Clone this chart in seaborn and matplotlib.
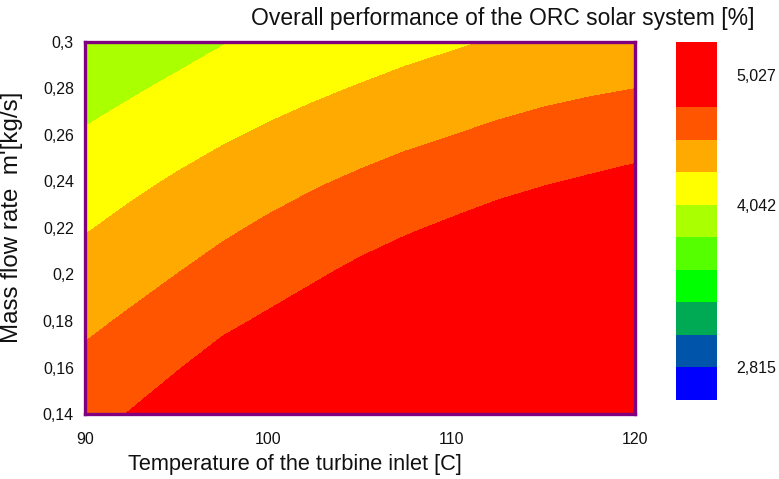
import numpy as np
import matplotlib
matplotlib.use("Agg")
import matplotlib.pyplot as plt
from matplotlib.colors import ListedColormap, BoundaryNorm
import seaborn as sns

# ---- data ----
temperature = [90, 92.5, 95, 97.5, 100, 102.5, 105, 107.5, 110, 112.5, 115, 117.5, 120]  # x (C)
mass_flow = [0.14, 0.16, 0.18, 0.20, 0.22, 0.24, 0.26, 0.28, 0.30]                      # y (kg/s)
# overall performance [%], one row per mass flow (bottom -> top), columns = temperature
perf_m014 = [4.701, 4.792, 4.887, 4.984, 5.047, 5.080, 5.100, 5.110, 5.120, 5.130, 5.140, 5.150, 5.160]
perf_m016 = [4.594, 4.680, 4.770, 4.863, 4.929, 5.004, 5.070, 5.090, 5.110, 5.120, 5.130, 5.140, 5.150]
perf_m018 = [4.488, 4.567, 4.653, 4.741, 4.810, 4.881, 4.960, 5.029, 5.080, 5.090, 5.110, 5.120, 5.130]
perf_m020 = [4.382, 4.458, 4.536, 4.620, 4.691, 4.759, 4.830, 4.894, 4.953, 5.013, 5.060, 5.090, 5.100]
perf_m022 = [4.274, 4.351, 4.424, 4.499, 4.572, 4.637, 4.700, 4.759, 4.813, 4.868, 4.911, 4.951, 5.000]
perf_m024 = [4.167, 4.242, 4.313, 4.381, 4.448, 4.513, 4.570, 4.624, 4.673, 4.723, 4.766, 4.803, 4.840]
perf_m026 = [4.063, 4.131, 4.199, 4.263, 4.321, 4.382, 4.438, 4.489, 4.533, 4.579, 4.621, 4.655, 4.688]
perf_m028 = [3.957, 4.019, 4.084, 4.148, 4.206, 4.252, 4.304, 4.355, 4.398, 4.441, 4.478, 4.509, 4.535]
perf_m030 = [3.850, 3.908, 3.969, 4.034, 4.094, 4.132, 4.170, 4.220, 4.263, 4.306, 4.339, 4.372, 4.403]
perf_rows = [perf_m014, perf_m016, perf_m018, perf_m020, perf_m022,
             perf_m024, perf_m026, perf_m028, perf_m030]

level_low, level_high, n_bands = 2.5692, 5.2728, 11
cbar_ticks = [2.815, 4.042, 5.027]
cbar_ticklabels = ["2,815", "4,042", "5,027"]
x_ticks = [90, 100, 110, 120]
y_ticks = [0.14, 0.16, 0.18, 0.20, 0.22, 0.24, 0.26, 0.28, 0.30]
y_ticklabels = ["0,14", "0,16", "0,18", "0,2", "0,22", "0,24", "0,26", "0,28", "0,3"]
band_colors = ["#0000FF", "#0055AA", "#00AA55", "#00FF00", "#55FF00", "#AAFF00",
               "#FFFF00", "#FFAA00", "#FF5500", "#FF0000", "#FF0000"]

# ---- style ----
sns.set_theme(style="white")
plt.rcParams["font.family"] = ["Liberation Sans", "DejaVu Sans"]

fig = plt.figure(figsize=(7.79, 4.79), dpi=100)
ax = fig.add_axes([85 / 779, 1 - 414 / 479, 550 / 779, 372 / 479])
cax = fig.add_axes([676 / 779, 1 - 400 / 479, 41 / 779, 358 / 479])

T, M = np.meshgrid(temperature, mass_flow)
Z = np.array(perf_rows)
levels = np.linspace(level_low, level_high, n_bands + 1)
cmap = ListedColormap(band_colors)
norm = BoundaryNorm(levels, cmap.N)
cs = ax.contourf(T, M, Z, levels=levels, cmap=cmap, norm=norm, antialiased=False)

ax.set_xlim(90, 120)
ax.set_ylim(0.14, 0.30)
ax.set_xticks(x_ticks)
ax.set_xticklabels([str(v) for v in x_ticks])
ax.set_yticks(y_ticks)
ax.set_yticklabels(y_ticklabels)
ax.tick_params(axis="both", which="both", length=0, labelsize=11.5, colors="#111111")
ax.tick_params(axis="x", pad=13)
ax.tick_params(axis="y", pad=8)
for sp in ax.spines.values():
    sp.set_visible(True)
    sp.set_color("#800080")
    sp.set_linewidth(2.4)

ax.set_xlabel("Temperature of the turbine inlet [C]", fontsize=15.7, color="#111111")
ax.xaxis.set_label_coords((295 - 85) / 550, -0.108)
ax.set_ylabel("Mass flow rate  m'[kg/s]", fontsize=17.4, color="#111111")
ax.yaxis.set_label_coords(-0.113, (414 - 217) / 372)

cb = fig.colorbar(cs, cax=cax, ticks=cbar_ticks)
cb.set_ticklabels(cbar_ticklabels)
cb.outline.set_visible(False)
cax.minorticks_off()
cax.tick_params(which="both", length=0, labelsize=11.5, pad=14, colors="#111111")

fig.text(0.645, 0.962, "Overall performance of the ORC solar system [%]",
         ha="center", va="center", fontsize=16.5, color="#111111")

fig.savefig("out.png", dpi=100)
